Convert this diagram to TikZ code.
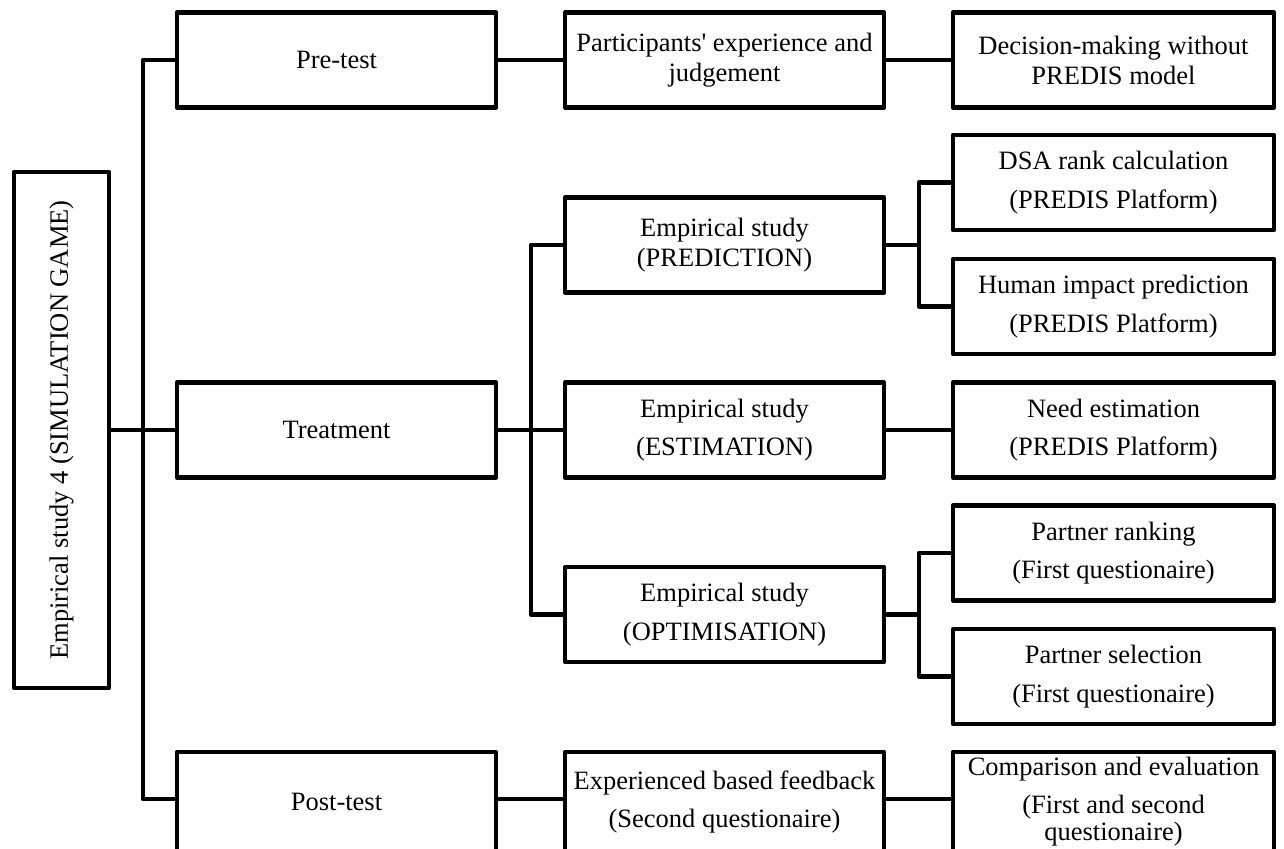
\documentclass[tikz,border=0pt]{standalone}
\usepackage{fontspec}
\setmainfont{Liberation Serif}
\begin{document}
\begin{tikzpicture}[x=0.5pt,y=-0.5pt,
  line width=2.2pt, line join=round,
  box/.style={draw, line width=2.2pt, inner sep=0pt, outer sep=0pt, align=center,
    minimum height=47.5pt, font=\fontsize{13.25pt}{15pt}\selectfont},
  loose/.style={font=\fontsize{13.25pt}{19.25pt}\selectfont},
  colA/.style={box, minimum width=159.5pt},
  colB/.style={box, minimum width=159.5pt},
  colC/.style={box, minimum width=160.5pt},
  lastrow/.style={minimum height=50pt},
  link/.style={draw, line width=2.2pt, line join=round}]

% canvas
\fill[white] (0,0) rectangle (1284,849);
\useasboundingbox (0,0) rectangle (1284,849);

% root
\node[box, rotate=90, minimum width=258pt, minimum height=47.5pt] (root) at (61.5,430)
  {Empirical study 4 (SIMULATION GAME)};

% first level
\node[colA] (pre)   at (336.5,60)  {Pre-test};
\node[colA] (treat) at (336.5,430) {Treatment};
\node[colA, lastrow] (post) at (336.5,802) {Post-test};

% second level
\node[colB] (part) at (724.5,60) {Participants\textquotesingle{} experience and\\judgement};
\node[colB] (pred) at (724.5,245) {Empirical study\\(PREDICTION)};
\node[colB, loose] (est) at (724.5,430) {Empirical study\\(ESTIMATION)};
\node[colB, loose] (opt) at (724.5,614.5) {Empirical study\\(OPTIMISATION)};
\node[colB, loose, lastrow] (exp) at (724.5,802) {Experienced based feedback\\(Second questionaire)};

% third level
\node[colC] (dec)  at (1113.5,60)    {Decision-making without\\PREDIS model};
\node[colC, loose] (dsa)  at (1113.5,182.5) {DSA rank calculation\\(PREDIS Platform)};
\node[colC, loose] (hum)  at (1113.5,306.5) {Human impact prediction\\(PREDIS Platform)};
\node[colC, loose] (need) at (1113.5,430)   {Need estimation\\(PREDIS Platform)};
\node[colC, loose] (rank) at (1113.5,553)   {Partner ranking\\(First questionaire)};
\node[colC, loose] (sel)  at (1113.5,676.5) {Partner selection\\(First questionaire)};
\node[colC, lastrow, font=\fontsize{13.25pt}{13.5pt}\selectfont] (comp) at (1113.5,802)
  {Comparison and evaluation\\[5.5pt](First and second\\questionaire)};

% junctions of the tree
\coordinate (j1) at (143,430);
\coordinate (j2) at (531,430);
\coordinate (j3) at (919,245);
\coordinate (j4) at (919,614.5);

% connectors
\path[link] (root.south) -- (treat.west);
\path[link] (pre.west) -| (j1) |- ([yshift=1.5pt]post.west);
\path[link] (treat.east) -- (est.west);
\path[link] (pred.west) -| (j2) |- (opt.west);
\path[link] (pre.east) -- (part.west);
\path[link] (part.east) -- (dec.west);
\path[link] (pred.east) -- (j3);
\path[link] (dsa.west) -| (j3) |- (hum.west);
\path[link] (est.east) -- (need.west);
\path[link] (opt.east) -- (j4);
\path[link] (rank.west) -| (j4) |- (sel.west);
\path[link] ([yshift=1.5pt]post.east) -- ([yshift=1.5pt]exp.west);
\path[link] ([yshift=1.5pt]exp.east) -- ([yshift=1.5pt]comp.west);
\end{tikzpicture}
\end{document}
